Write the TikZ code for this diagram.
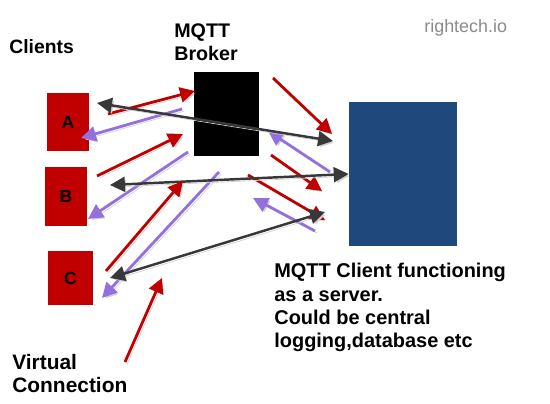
\documentclass[tikz,border=0pt]{standalone}
\usepackage{fontspec}
\setmainfont{Liberation Sans}
\usepackage{tikz}
\usetikzlibrary{arrows.meta}
\definecolor{clientred}{HTML}{C00000}
\definecolor{serverblue}{HTML}{1F497D}
\definecolor{msgpurple}{HTML}{9370DB}
\definecolor{linkgray}{HTML}{383838}
\definecolor{logogray}{HTML}{8A8A8A}
\tikzset{
	clientbox/.style={fill=clientred, inner sep=0pt, font=\bfseries\fontsize{10}{12}\selectfont},
	captext/.style={inner sep=0pt, align=left, font=\bfseries\fontsize{11}{13.4}\selectfont},
	shadowed/.style={preaction={draw=black!18, transform canvas={shift={(1.2pt,-1.2pt)}}}},
	redmsg/.style={shadowed, draw=clientred, line width=1.6pt, -{Triangle[length=8.5pt,width=8.5pt]}},
	purplemsg/.style={shadowed, draw=msgpurple, line width=1.6pt, -{Triangle[length=8.5pt,width=8.5pt]}},
	graylink/.style={shadowed, draw=linkgray, line width=1.4pt, {Triangle[length=8.5pt,width=8.5pt]}-{Triangle[length=8.5pt,width=8.5pt]}}
}

\begin{document}
\begin{tikzpicture}[x=0.02cm, y=-0.02cm]
	\useasboundingbox (0,0) rectangle (550,404);

	% boxes
	\node[clientbox, minimum width=0.84cm, minimum height=1.16cm] (A) at (68,122) {A};
	\node[clientbox, minimum width=0.84cm, minimum height=1.18cm] (B) at (66,196.5) {B};
	\node[clientbox, minimum width=0.90cm, minimum height=1.08cm] (C) at (70.5,278) {C};
	\node[fill=black, inner sep=0pt, minimum width=1.30cm, minimum height=1.68cm] (broker) at (226.5,114) {};
	\node[fill=serverblue, inner sep=0pt, minimum width=2.16cm, minimum height=2.88cm] (server) at (403,174) {};

	% texts
	\node[captext, anchor=base west] (clients) at (9,54) {Clients};
	\node[captext, anchor=north west, font=\bfseries\fontsize{11.2}{13.6}\selectfont] (brokertxt) at (174,23) {MQTT\\Broker};
	\node[inner sep=0pt, anchor=base west, text=logogray, font=\fontsize{10.2}{12}\selectfont] (logo) at (424,33) {rightech.io};
	\node[captext, anchor=north west, font=\bfseries\fontsize{11.35}{13.3}\selectfont] (servertxt) at (274,263) {MQTT Client functioning\\as a server.\\Could be central\\logging,database etc};
	\node[captext, anchor=north west, font=\bfseries\fontsize{11.9}{13.2}\selectfont] (virtual) at (12,354) {Virtual\\Connection};

	% arrow ends
	\coordinate (ra) at (108,114);   \coordinate (rab) at (195,91);
	\coordinate (rb) at (97,176);    \coordinate (rbb) at (183,134);
	\coordinate (rc) at (106,271);   \coordinate (rcb) at (183,181);
	\coordinate (rv) at (125,362);   \coordinate (rvt) at (162,278);
	\coordinate (rs1) at (273,78);   \coordinate (rs1t) at (332,134);
	\coordinate (rs2) at (271,155);  \coordinate (rs2t) at (322,191);
	\coordinate (rs3) at (248,175);  \coordinate (rs3t) at (325,220);
	\coordinate (pa) at (182,109);   \coordinate (pat) at (81,138);
	\coordinate (pb) at (188,152);   \coordinate (pbt) at (88,219);
	\coordinate (pc) at (219,172);   \coordinate (pct) at (102,298);
	\coordinate (ps1) at (330,172);  \coordinate (ps1t) at (268,131);
	\coordinate (ps2) at (315,231);  \coordinate (ps2t) at (253,198);
	\coordinate (ga) at (97,103);    \coordinate (gat) at (333,141);
	\coordinate (gb) at (110,185);
	\coordinate (gc) at (110,278);   \coordinate (gct) at (325,212);

	% purple messages
	\draw[purplemsg] (pa) -- (pat);
	\draw[purplemsg] (pb) -- (pbt);
	\draw[purplemsg] (pc) -- (pct);
	\draw[purplemsg] (ps1) -- (ps1t);
	\draw[purplemsg] (ps2) -- (ps2t);

	% red messages
	\draw[redmsg] (ra) -- (rab);
	\draw[redmsg] (rb) -- (rbb);
	\draw[redmsg] (rs1) -- (rs1t);
	\draw[redmsg] (rs2) -- (rs2t);
	\draw[redmsg] (rs3) -- (rs3t);
	\draw[redmsg] (rv) -- (rvt);

	% links
	\draw[graylink] (ga) -- (gat);
	\draw[graylink] (gb) -- (server.west);
	\draw[graylink] (gc) -- (gct);
	\draw[redmsg] (rc) -- (rcb);
\end{tikzpicture}
\end{document}
